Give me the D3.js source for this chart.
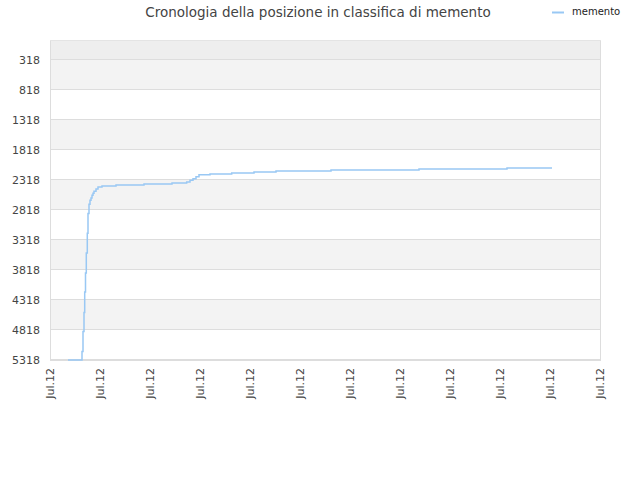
<!DOCTYPE html>
<html><head><meta charset="utf-8">
<script src="https://cdn.jsdelivr.net/npm/d3@7"></script>
<style>body{margin:0;background:#fff}svg{display:block}</style>
</head><body>
<svg id="c" width="640" height="480"></svg>
<script>
const title = "Cronologia della posizione in classifica di memento";
const seriesName = "memento";
const xTickLabels = ["Jul.12","Jul.12","Jul.12","Jul.12","Jul.12","Jul.12","Jul.12","Jul.12","Jul.12","Jul.12","Jul.12","Jul.12"];
const yTicks = [318,818,1318,1818,2318,2818,3318,3818,4318,4818,5318];
// x in tick-interval units, rank value
const xs = [0.36,0.64,0.66,0.68,0.694,0.71,0.726,0.746,0.76,0.78,0.8,0.82,0.84,0.86,0.88,0.92,0.96,1.04,1.32,1.88,2.44,2.734,2.8,2.86,2.92,2.98,3.2,3.634,4.08,4.52,5.62,7.38,9.14,10.04];
const ranks = [5318,5176,4843,4526,4188,3871,3538,3210,2881,2726,2660,2621,2576,2543,2510,2471,2438,2421,2405,2388,2371,2355,2326,2300,2270,2235,2221,2205,2188,2171,2155,2138,2121,2121];

const svg = d3.select("#c");
const L = 50, R = 600, T = 40, B = 360;
const x = d3.scaleLinear().domain([0, xTickLabels.length - 1]).range([L, R]);
const y = d3.scaleLinear().domain([-7, 5318]).range([T, B]);

// top band
svg.append("rect").attr("x", L).attr("y", T).attr("width", R - L).attr("height", y(318) - T).attr("fill", "#eeeeee");
// alternating bands
for (let i = 0; i < yTicks.length - 1; i++) {
  svg.append("rect").attr("x", L).attr("y", y(yTicks[i])).attr("width", R - L)
    .attr("height", y(yTicks[i + 1]) - y(yTicks[i]))
    .attr("fill", i % 2 === 0 ? "#f3f3f3" : "#ffffff");
}
// grid lines
svg.append("g").selectAll("line").data(yTicks).join("line")
  .attr("x1", L).attr("x2", R)
  .attr("y1", d => Math.round(y(d)) - 0.5).attr("y2", d => Math.round(y(d)) - 0.5)
  .attr("stroke", "#dddddd").attr("stroke-width", 1);
// frame
svg.append("line").attr("x1", L + 0.5).attr("x2", L + 0.5).attr("y1", T).attr("y2", B).attr("stroke", "#dddddd");
svg.append("line").attr("x1", R + 0.5).attr("x2", R + 0.5).attr("y1", T).attr("y2", B).attr("stroke", "#dddddd");
svg.append("line").attr("x1", L).attr("x2", R + 1).attr("y1", B + 0.5).attr("y2", B + 0.5).attr("stroke", "#dddddd");
svg.append("line").attr("x1", L).attr("x2", R + 1).attr("y1", T + 0.5).attr("y2", T + 0.5).attr("stroke", "#e4e4e4");

// y axis labels
const yAxis = d3.axisLeft(y).tickValues(yTicks).tickFormat(d3.format("d")).tickSize(0).tickPadding(10);
const gy = svg.append("g").attr("transform", `translate(${L},0)`).call(yAxis);
gy.select(".domain").remove();
gy.selectAll("text").attr("font-family", "DejaVu Sans, sans-serif").attr("font-size", 11).attr("fill", "#444");

// x axis labels
const xAxis = d3.axisBottom(x).tickValues(d3.range(xTickLabels.length)).tickFormat((d, i) => xTickLabels[i]).tickSize(0);
const gx = svg.append("g").attr("transform", `translate(0,${B})`).call(xAxis);
gx.select(".domain").remove();
gx.selectAll("text")
  .attr("font-family", "DejaVu Sans, sans-serif").attr("font-size", 11).attr("fill", "#444")
  .attr("transform", "rotate(-90)").attr("text-anchor", "end")
  .attr("x", -8).attr("y", 0).attr("dy", "0.35em");

// line
const pts = xs.map((d, i) => [d, ranks[i]]);
const line = d3.line().x(d => x(d[0])).y(d => y(d[1])).curve(d3.curveStepAfter);
svg.append("path").datum(pts).attr("d", line).attr("fill", "none")
  .attr("stroke", "#99c8f4").attr("stroke-width", 1.5);

// title
svg.append("text").attr("x", 318).attr("y", 17).attr("text-anchor", "middle")
  .attr("font-family", "DejaVu Sans, sans-serif").attr("font-size", 13.5).attr("fill", "#444").text(title);
// legend
svg.append("line").attr("x1", 552).attr("x2", 564).attr("y1", 12.5).attr("y2", 12.5)
  .attr("stroke", "#99c8f4").attr("stroke-width", 2);
svg.append("text").attr("x", 572).attr("y", 15).attr("font-family", "DejaVu Sans, sans-serif")
  .attr("font-size", 10).attr("fill", "#222").text(seriesName);
</script>
</body></html>
